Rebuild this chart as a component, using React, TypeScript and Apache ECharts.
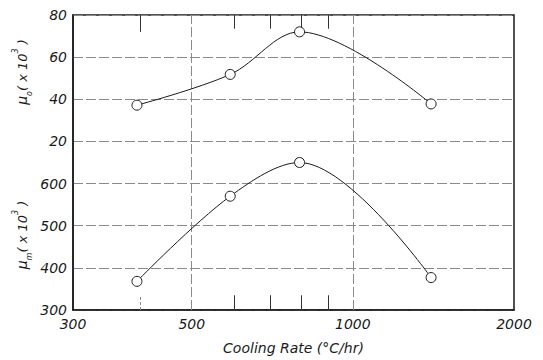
import React, { useEffect, useRef } from "react";
import * as echarts from "echarts";

// Cooling rate (°C/hr) of the measured points
const xValues = [395, 590, 795, 1400];
// μo (x10^3)
const mu0Values = [37.2, 51.8, 72, 37.8];
// μm (x10^3)
const mumValues = [368, 570, 650, 377];

const xTickLabels = [300, 500, 1000, 2000];
const xGridLines = [500, 1000];
const xMinorTicks = [400, 600, 700, 800, 900];
const mu0TickLabels = [20, 40, 60, 80];
const mumTickLabels = [300, 400, 500, 600];

const FONT = "DejaVu Sans";
const INK = "#1a1a1a";
const GRID = "#8a8a8a";

export default function App() {
  const ref = useRef<HTMLDivElement>(null);

  useEffect(() => {
    if (!ref.current) return;
    const chart = echarts.init(ref.current, null, { renderer: "svg" });

    const labelStyle = {
      fontFamily: FONT,
      fontStyle: "italic" as const,
      fontSize: 14,
      color: INK,
    };

    const markData: any[] = [];
    xGridLines.forEach((v) => {
      markData.push({
        xAxis: v,
        lineStyle: { color: GRID, width: 1, type: [10, 3] },
        label:
          v === 500
            ? { show: true, position: "start", formatter: String(v), distance: 7, ...labelStyle }
            : { show: false },
      });
    });
    xMinorTicks.forEach((v) => {
      const topLen = v === 400 ? 8 : 6.5;
      const botLen = 7;
      markData.push([
        { coord: [v, 80], lineStyle: { color: "#333", width: 1, type: "solid" }, label: { show: false } },
        { coord: [v, 80 - topLen] },
      ]);
      markData.push([
        { coord: [v, -60], lineStyle: { color: v === 400 ? GRID : "#333", width: 1, type: v === 400 ? [3, 2] : "solid" }, label: { show: false } },
        { coord: [v, -60 + botLen] },
      ]);
    });

    const nameRich = (sub: string) => ({
      text: `{m|μ}{s|${sub}}{n|( x 10}{p|3}{n| )}`,
      rich: {
        m: { fontFamily: FONT, fontStyle: "italic", fontSize: 14, lineHeight: 22, fill: INK },
        s: { fontFamily: FONT, fontStyle: "italic", fontSize: 8, verticalAlign: "bottom", fill: INK },
        n: { fontFamily: FONT, fontStyle: "italic", fontSize: 13, lineHeight: 22, fill: INK },
        p: { fontFamily: FONT, fontStyle: "italic", fontSize: 8, verticalAlign: "top", fill: INK },
      },
      align: "center",
      verticalAlign: "middle",
      fill: INK,
    });

    chart.setOption({
      animation: false,
      backgroundColor: "#fff",
      grid: {
        left: 73,
        right: 29,
        top: 15,
        bottom: 44,
        show: true,
        borderColor: INK,
        borderWidth: 1.5,
        containLabel: false,
      },
      xAxis: {
        type: "log",
        logBase: 10,
        min: 300,
        max: 2000,
        name: "Cooling Rate (°C/hr)",
        nameLocation: "middle",
        nameGap: 31,
        nameTextStyle: { ...labelStyle, fontSize: 14 },
        axisLine: { show: true, onZero: false, lineStyle: { color: INK, width: 1.5 } },
        axisTick: { show: false },
        splitLine: { show: false },
        axisLabel: {
          ...labelStyle,
          margin: 7,
          showMinLabel: true,
          showMaxLabel: true,
          formatter: (v: number) => {
            const r = Math.round(v);
            return xTickLabels.includes(r) && r !== 500 ? String(r) : "";
          },
        },
      },
      yAxis: [
        {
          type: "value",
          min: -60,
          max: 80,
          interval: 20,
          position: "left",
          axisLine: { show: true, onZero: false, lineStyle: { color: INK, width: 1.5 } },
          axisTick: { show: false },
          splitLine: { show: true, lineStyle: { color: GRID, width: 1, type: [10, 3] } },
          axisLabel: {
            ...labelStyle,
            margin: 6,
            formatter: (v: number) => (mu0TickLabels.includes(v) ? String(v) : ""),
          },
        },
        {
          type: "value",
          min: 300,
          max: 1000,
          interval: 100,
          position: "left",
          axisLine: { show: false, onZero: false },
          axisTick: { show: false },
          splitLine: { show: false },
          axisLabel: {
            ...labelStyle,
            margin: 6,
            formatter: (v: number) => (mumTickLabels.includes(v) ? String(v) : ""),
          },
        },
      ],
      graphic: [
        { type: "text", x: 22, y: 72, rotation: Math.PI / 2, style: nameRich("o") },
        { type: "text", x: 22, y: 235, rotation: Math.PI / 2, style: nameRich("m") },
      ],
      series: [
        {
          type: "line",
          name: "μo",
          xAxisIndex: 0,
          yAxisIndex: 0,
          data: xValues.map((x, i) => [x, mu0Values[i]]),
          smooth: 0.35,
          symbol: "circle",
          symbolSize: 10,
          lineStyle: { color: INK, width: 1 },
          itemStyle: { color: "#fff", borderColor: INK, borderWidth: 1 },
          z: 5,
          markLine: {
            silent: true,
            symbol: ["none", "none"],
            animation: false,
            data: markData,
            z: 1,
          },
        },
        {
          type: "line",
          name: "μm",
          xAxisIndex: 0,
          yAxisIndex: 1,
          data: xValues.map((x, i) => [x, mumValues[i]]),
          smooth: 0.35,
          symbol: "circle",
          symbolSize: 10,
          lineStyle: { color: INK, width: 1 },
          itemStyle: { color: "#fff", borderColor: INK, borderWidth: 1 },
          z: 5,
        },
      ],
    });

    return () => chart.dispose();
  }, []);

  return (
    <div
      ref={ref}
      style={{ position: "fixed", left: 0, top: 0, width: 543, height: 360, background: "#fff" }}
    />
  );
}
